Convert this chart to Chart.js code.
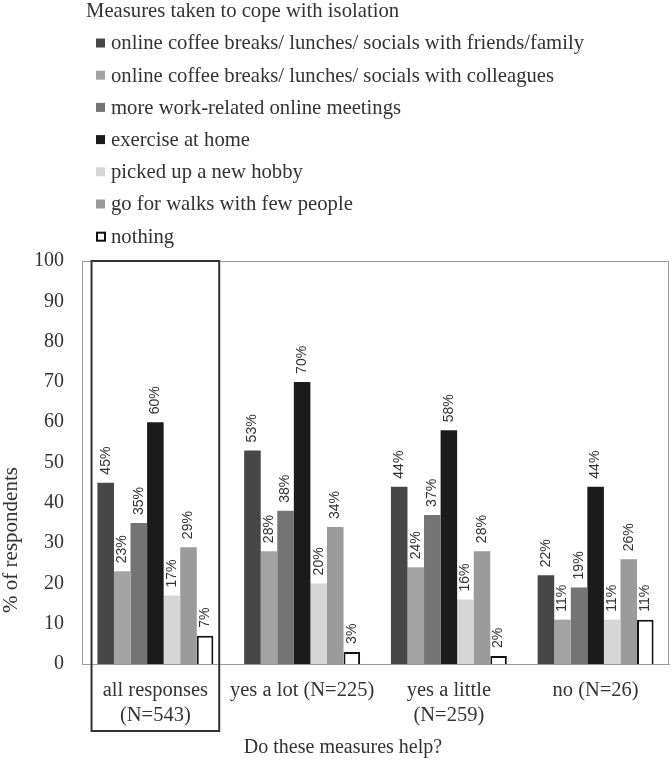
<!DOCTYPE html>
<html>
<head>
<meta charset="utf-8">
<script src="https://cdn.jsdelivr.net/npm/chart.js@4.4.0/dist/chart.umd.min.js"></script>
<style>
  html, body { margin: 0; padding: 0; background: #fff; }
  #wrap { width: 672px; height: 761px; }
</style>
</head>
<body>
<div id="wrap"><canvas id="myChart" width="672" height="761"></canvas></div>
<script>
// categories on the x axis
var groups = [['all responses', '(N=543)'], ['yes a lot (N=225)'], ['yes a little', '(N=259)'], ['no (N=26)']];

// one array per measure, in % of respondents
var friendsFamily = [45, 53, 44, 22];
var colleagues    = [23, 28, 24, 11];
var workMeetings  = [35, 38, 37, 19];
var exerciseHome  = [60, 70, 58, 44];
var newHobby      = [17, 20, 16, 11];
var walks         = [29, 34, 28, 26];
var nothing       = [7, 3, 2, 11];

var seriesNames = [
    'online coffee breaks/ lunches/ socials with friends/family',
    'online coffee breaks/ lunches/ socials with colleagues',
    'more work-related online meetings',
    'exercise at home',
    'picked up a new hobby',
    'go for walks with few people',
    'nothing'
];
var seriesValues = [friendsFamily, colleagues, workMeetings, exerciseHome, newHobby, walks, nothing];
var fills   = ['#474747', '#a3a3a3', '#747474', '#1b1b1b', '#d6d6d6', '#9b9b9b', '#ffffff'];
var borders = [0, 0, 0, 0, 0, 0, 2];

var yTicks = [0, 10, 20, 30, 40, 50, 60, 70, 80, 90, 100];

var legendTitle = 'Measures taken to cope with isolation';
var xTitle = 'Do these measures help?';
var yTitle = '% of respondents';

var serif = "'Liberation Serif', 'Times New Roman', serif";

// percent labels written upwards above each bar
var barLabels = {
    id: 'barLabels',
    afterDatasetsDraw: function(chart) {
        var ctx = chart.ctx;
        ctx.save();
        ctx.font = "14px 'Liberation Sans', sans-serif";
        ctx.fillStyle = '#333';
        ctx.textAlign = 'left';
        ctx.textBaseline = 'middle';
        chart.data.datasets.forEach(function(ds, i) {
            chart.getDatasetMeta(i).data.forEach(function(bar, j) {
                ctx.save();
                ctx.translate(bar.x, bar.y - 8);
                ctx.rotate(-Math.PI / 2);
                ctx.fillText(ds.data[j] + '%', 0, 0);
                ctx.restore();
            });
        });
        ctx.restore();
    }
};

// grey frame round the plot, box round "all responses", axis titles
var frames = {
    id: 'frames',
    afterDraw: function(chart) {
        var ctx = chart.ctx;
        var a = chart.chartArea;
        var x = chart.scales.x;
        ctx.save();
        ctx.strokeStyle = '#9a9a9a';
        ctx.lineWidth = 1;
        ctx.strokeRect(a.left + 0.5, a.top + 0.5, a.right - a.left - 1, a.bottom - a.top);

        var cw = (a.right - a.left) / groups.length;
        var cx = x.getPixelForValue(0);
        ctx.strokeStyle = '#333';
        ctx.lineWidth = 2;
        ctx.strokeRect(cx - cw * 0.435, a.top, cw * 0.87, 731 - a.top);

        ctx.fillStyle = '#333';
        ctx.textAlign = 'center';
        ctx.textBaseline = 'middle';
        ctx.font = '20px ' + serif;
        ctx.fillText(xTitle, 343, 748);

        ctx.font = '21px ' + serif;
        ctx.translate(11, 540);
        ctx.rotate(-Math.PI / 2);
        ctx.fillText(yTitle, 0, 0);
        ctx.restore();
    }
};

// legend in one column above the plot
var columnLegend = {
    id: 'columnLegend',
    afterDraw: function(chart) {
        var ctx = chart.ctx;
        ctx.save();
        ctx.font = '20.7px ' + serif;
        ctx.fillStyle = '#333';
        ctx.textBaseline = 'middle';
        ctx.textAlign = 'left';
        ctx.fillText(legendTitle, 86, 12);
        chart.data.datasets.forEach(function(ds, i) {
            var y = 43 + i * 32.2;
            ctx.fillStyle = ds.backgroundColor;
            ctx.fillRect(96, y - 4.5, 9, 9);
            if (ds.borderWidth) {
                ctx.strokeStyle = '#111';
                ctx.lineWidth = 2;
                ctx.strokeRect(97, y - 3.5, 8, 8);
            }
            ctx.fillStyle = '#333';
            ctx.fillText(ds.label, 111, y + 1);
        });
        ctx.restore();
    }
};

var ctx = document.getElementById('myChart').getContext('2d');
var chart = new Chart(ctx, {
    type: 'bar',
    data: {
        labels: groups,
        datasets: seriesNames.map(function(name, i) {
            return {
                label: name,
                data: seriesValues[i],
                backgroundColor: fills[i],
                borderColor: '#111',
                borderWidth: borders[i],
                categoryPercentage: 0.79,
                barPercentage: 1
            };
        })
    },
    options: {
        responsive: false,
        animation: false,
        layout: {
            padding: { left: 0, right: 3, top: 261, bottom: 0 }
        },
        plugins: {
            legend: { display: false },
            tooltip: { enabled: false }
        },
        scales: {
            x: {
                grid: { display: false, drawTicks: false },
                border: { display: true, color: '#9a9a9a' },
                ticks: {
                    color: '#333',
                    font: { family: serif, size: 20.5, lineHeight: 1.22 },
                    padding: 14,
                    autoSkip: false,
                    minRotation: 0,
                    maxRotation: 0
                },
                afterFit: function(s) { s.height = 97; }
            },
            y: {
                min: 0,
                max: 100,
                afterBuildTicks: function(s) {
                    s.ticks = yTicks.map(function(v) { return { value: v }; });
                },
                grid: { display: false, drawTicks: false },
                border: { display: true, color: '#9a9a9a' },
                ticks: { color: '#333', font: { family: serif, size: 20 }, padding: 18 },
                afterFit: function(s) { s.width = 82; }
            }
        }
    },
    plugins: [barLabels, frames, columnLegend]
});
</script>
</body>
</html>
